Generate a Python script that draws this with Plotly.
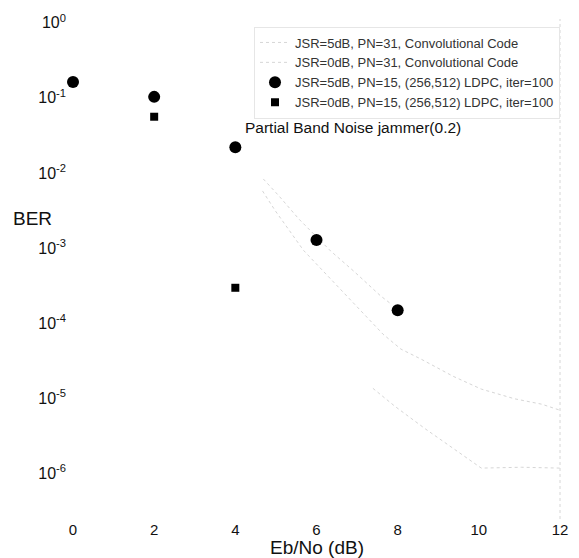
import plotly.graph_objects as go

# ---- data ----
ldpc_x = [0, 2, 4, 6, 8]
ldpc_jsr5 = [0.163, 0.103, 0.022, 1.28e-3, 1.48e-4]

ldpc0_x = [0, 2, 4]
ldpc_jsr0 = [0.163, 0.056, 2.95e-4]

conv5_x = [4.69, 5.08, 5.56, 6.35, 6.92, 7.58, 7.8]
conv5_y = [8.3e-3, 4.9e-3, 2.45e-3, 9.1e-4, 4.9e-4, 2.3e-4, 1.86e-4]

conv0_x = [4.67, 4.99, 5.68, 7.02, 7.64, 8.08, 8.58, 9.37, 10.06, 10.88, 11.55, 12.0]
conv0_y = [5.75e-3, 3.1e-3, 9.3e-4, 1.58e-4, 7.1e-5, 4.5e-5, 3.3e-5, 1.95e-5,
           1.32e-5, 9.8e-6, 8.3e-6, 6.9e-6]

extra_x = [7.39, 7.93, 8.68, 9.81, 10.06, 11.05, 12.0]
extra_y = [1.35e-5, 7.8e-6, 3.9e-6, 1.45e-6, 1.17e-6, 1.2e-6, 1.17e-6]

x_ticks = [0, 2, 4, 6, 8, 10, 12]
y_tickvals = [1, 1e-1, 1e-2, 1e-3, 1e-4, 1e-5, 1e-6]
y_ticktext = ["10<sup>0</sup>", "10<sup>-1</sup>", "10<sup>-2</sup>", "10<sup>-3</sup>",
              "10<sup>-4</sup>", "10<sup>-5</sup>", "10<sup>-6</sup>"]

names = [
    "JSR=5dB, PN=31, Convolutional Code",
    "JSR=0dB, PN=31, Convolutional Code",
    "JSR=5dB, PN=15, (256,512) LDPC, iter=100",
    "JSR=0dB, PN=15, (256,512) LDPC, iter=100",
]

FONT = "Liberation Sans, Arial, sans-serif"
line_style = dict(color="#d6d6d6", width=1, dash="dot")

fig = go.Figure()
fig.add_trace(go.Scatter(x=conv5_x, y=conv5_y, mode="lines", name=names[0],
                         line=line_style))
fig.add_trace(go.Scatter(x=conv0_x, y=conv0_y, mode="lines", name=names[1],
                         line=line_style))
fig.add_trace(go.Scatter(x=extra_x, y=extra_y, mode="lines", showlegend=False,
                         line=line_style))
fig.add_trace(go.Scatter(x=ldpc_x, y=ldpc_jsr5, mode="markers", name=names[2],
                         marker=dict(symbol="circle", size=12, color="black"),
                         cliponaxis=False))
fig.add_trace(go.Scatter(x=ldpc0_x, y=ldpc_jsr0, mode="markers", name=names[3],
                         marker=dict(symbol="square", size=8, color="black"),
                         cliponaxis=False))

fig.update_layout(
    width=579, height=558,
    margin=dict(l=73, r=19, t=19, b=39),
    paper_bgcolor="white", plot_bgcolor="white",
    font=dict(family=FONT, color="#111111", size=14),
    showlegend=True,
    legend=dict(
        x=1, y=0.985, xanchor="right", yanchor="top",
        font=dict(family=FONT, size=13, color="#333333"),
        bgcolor="rgba(255,255,255,0)",
        bordercolor="#e6e6e6", borderwidth=1,
        tracegroupgap=0,
    ),
    annotations=[
        dict(text="Partial Band Noise jammer(0.2)", x=4.2, y=-1.4,
             xref="x", yref="y", xanchor="left", yanchor="middle",
             showarrow=False, font=dict(family=FONT, size=15.5, color="#111111")),
        dict(text="BER", x=(32 - 73) / 487, y=(519 - 218) / 500,
             xref="paper", yref="paper", xanchor="center", yanchor="middle",
             showarrow=False, font=dict(family=FONT, size=19, color="#111111")),
        dict(text="Eb/No (dB)", x=0.5, y=-(547 - 519) / 500,
             xref="paper", yref="paper", xanchor="center", yanchor="middle",
             showarrow=False, font=dict(family=FONT, size=19, color="#111111")),
    ],
    shapes=[
        dict(type="line", xref="paper", yref="paper", x0=1, x1=1, y0=0, y1=1,
             line=dict(color="#d6d6d6", width=1, dash="dot")),
    ],
)

fig.update_xaxes(
    range=[0, 12], tickvals=x_ticks, ticktext=[str(v) for v in x_ticks],
    showgrid=False, zeroline=False, showline=False, ticks="",
    tickfont=dict(family=FONT, size=15, color="#111111"),
)
fig.update_yaxes(
    type="log", range=[-6.61, 0.05], tickvals=y_tickvals, ticktext=y_ticktext,
    showgrid=False, zeroline=False, showline=False, ticks="",
    ticklabelstandoff=6,
    tickfont=dict(family=FONT, size=16, color="#111111"),
)

fig.write_html("out.html")
